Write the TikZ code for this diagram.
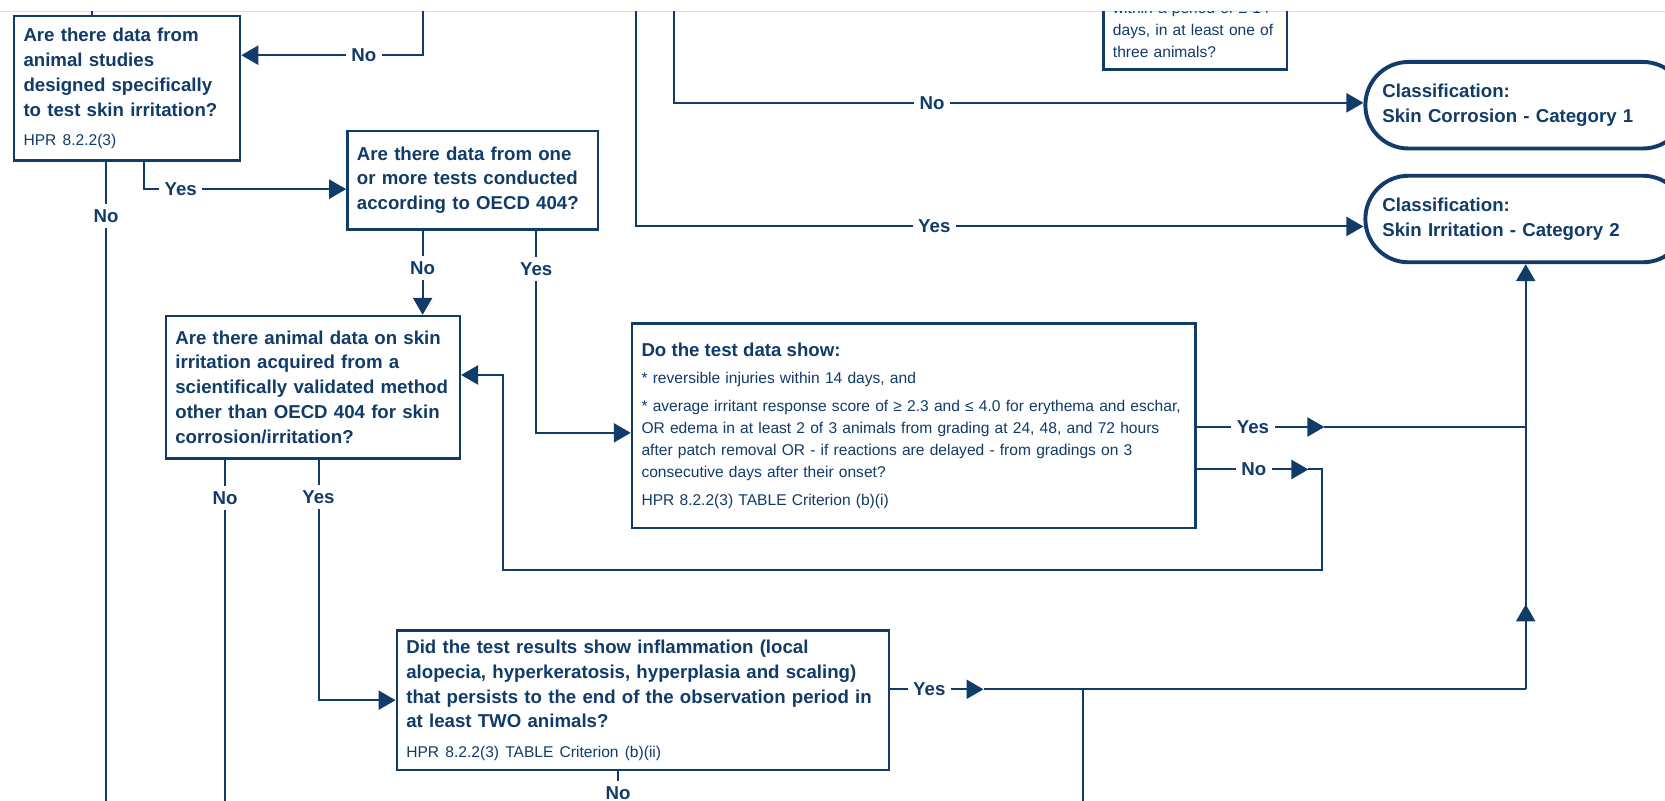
\documentclass[tikz,border=0pt]{standalone}
\usepackage{fontspec}
\setmainfont{Liberation Sans}
\usepackage{tikz}
\usetikzlibrary{positioning,arrows.meta}
\definecolor{hpnavy}{RGB}{17,59,104}

\begin{document}
\begin{tikzpicture}[x=0.02cm, y=-0.02cm,
		qbox/.style={rectangle, draw=hpnavy, line width=1.3pt, text=hpnavy, anchor=north west, align=left, inner xsep=0.18cm, font=\bfseries\fontsize{10}{13.3}\selectfont},
		dbox/.style={qbox, font=\fontsize{8.35}{11.9}\selectfont},
		classnode/.style={rectangle, rounded corners=0.81cm, draw=hpnavy, line width=2.1pt, text=hpnavy, align=left, inner xsep=0.32cm, text width=5.4cm, minimum height=1.63cm, font=\bfseries\fontsize{10}{13.3}\selectfont},
		lbl/.style={fill=white, text=hpnavy, inner sep=3pt, font=\bfseries\fontsize{10}{12}\selectfont},
		link/.style={draw=hpnavy, line width=1.05pt},
		arr/.style={link, -{Triangle[length=0.32cm, width=0.36cm]}},
		node distance=0.44cm,
		]
		\useasboundingbox (0,0) rectangle (1568,754);
		\fill[white] (0,0) rectangle (1568,754);
		\draw[black!12, line width=0.5pt] (0,11) -- (1568,11);
		
		\begin{scope}
		\clip (0,11) rectangle (1568,754);
		%Nodes
		\node[qbox, text width=3.9cm, minimum height=2.72cm](animal) at (12,14){Are there data from\\animal studies\\designed specifically\\to test skin irritation?\\[2.3pt]{\mdseries\fontsize{8.35}{13.3}\selectfont HPR 8.2.2(3)}};
		\node[qbox, text width=4.36cm, minimum height=1.86cm](oecd) at (326,122){Are there data from one\\or more tests conducted\\according to OECD 404?};
		\node[qbox, text width=5.18cm, minimum height=2.68cm](other) at (155,296.5){Are there animal data on skin\\irritation acquired from a\\scientifically validated method\\other than OECD 404 for skin\\corrosion/irritation?};
		\node[dbox, text width=10.26cm, minimum height=3.85cm](testdata) at (594,303.5){{\bfseries\fontsize{10}{11.9}\selectfont Do the test data show:}\\[2.8pt]
			* reversible injuries within 14 days, and\\[2.8pt]
			* average irritant response score of ≥ 2.3 and ≤ 4.0 for erythema and eschar,\\
			OR edema in at least 2 of 3 animals from grading at 24, 48, and 72 hours\\
			after patch removal OR - if reactions are delayed - from gradings on 3\\
			consecutive days after their onset?\\[2.8pt]
			HPR 8.2.2(3) TABLE Criterion (b)(i)};
		\node[qbox, text width=8.91cm, minimum height=2.63cm](inflam) at (372.5,592.5){Did the test results show inflammation (local\\alopecia, hyperkeratosis, hyperplasia and scaling)\\that persists to the end of the observation period in\\at least TWO animals?\\[2.3pt]{\mdseries\fontsize{8.35}{13.3}\selectfont HPR 8.2.2(3) TABLE Criterion (b)(ii)}};
		\node[dbox, anchor=south west, text width=3.1cm, inner ysep=0.22cm, font=\fontsize{8.35}{11.9}\selectfont](period) at (1038,66.5){within a period of ≤ 14\\days, in at least one of\\three animals?};
		\node[classnode, anchor=north west](cat1) at (1284,56.5){Classification:\\Skin Corrosion - Category 1};
		\node[classnode](cat2)[below=of cat1]{Classification:\\Skin Irritation - Category 2};
		
		%Lines
		\coordinate (fromtop) at (87,0);
		\coordinate (nocorr) at (398,0);
		\coordinate (yesirr) at (599,0);
		\coordinate (nocat) at (635,0);
		\draw[link] (fromtop) -- (fromtop |- animal.north);
		\draw[arr] (nocorr) |- node[lbl, pos=0.662]{No} ([yshift=-0.76cm]animal.north east);
		\draw[arr] (nocat) |- node[lbl, pos=0.687]{No} ([yshift=0.045cm]cat1.west);
		\draw[arr] (yesirr) |- node[lbl, pos=0.705]{Yes} ([yshift=-0.14cm]cat2.west);
		
		\draw[arr] ([xshift=2.48cm]animal.south west) |- node[lbl, pos=0.59]{Yes} ([yshift=-0.17cm]oecd.west);
		\draw[link] ([xshift=1.76cm]animal.south west) -- node[lbl, pos=0.081]{No} ++(0,630);
		
		\coordinate (oecdno) at ([xshift=1.44cm]oecd.south west);
		\draw[arr] (oecdno) -- node[lbl, pos=0.44]{No} (oecdno |- other.north);
		\draw[arr] ([xshift=3.58cm]oecd.south west) |- node[lbl, pos=0.094]{Yes} ([yshift=-0.135cm]testdata.west);
		
		\draw[link] ([xshift=1.14cm]other.south west) -- node[lbl, pos=0.103]{No} ++(0,350);
		\draw[arr] ([xshift=2.9cm]other.south west) |- node[lbl, pos=0.078]{Yes} (inflam.west);
		
		\draw[arr] ([yshift=-0.025cm]testdata.east) -- node[lbl, pos=0.44]{Yes} ++(120,0) coordinate (dyes);
		\draw[link] (dyes) -- (dyes -| cat2.south);
		\draw[arr] ([yshift=-0.825cm]testdata.east) -- node[lbl, pos=0.51]{No} ++(105,0) coordinate (dno);
		\coordinate (loopr) at (1245,537);
		\coordinate (loopl) at (474,537);
		\draw[arr] (dno) -| (loopr) -- (loopl) |- ([yshift=0.23cm]other.east);
		
		\draw[arr] ([yshift=0.205cm]inflam.east) -- node[lbl, pos=0.42]{Yes} ++(88,0) coordinate (eyes);
		\draw[link] (eyes) -- (eyes -| cat2.south) coordinate (join);
		\draw[arr] (join) -- ++(0,-80);
		\draw[arr] (join) -- (cat2.south);
		\coordinate (lowin) at (1020,790);
		\draw[link] (lowin) -- (lowin |- eyes);
		\draw[link] ([xshift=4.19cm]inflam.south west) -- node[lbl, pos=0.31]{No} ++(0,66);
		\end{scope}
		
	\end{tikzpicture}
\end{document}
